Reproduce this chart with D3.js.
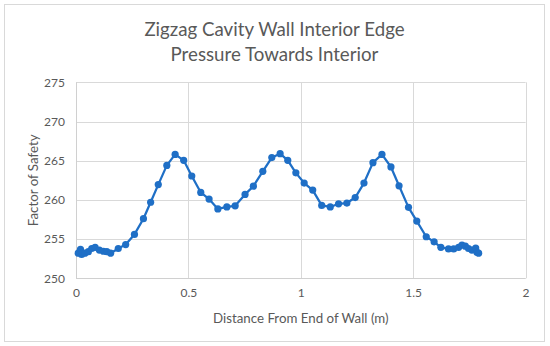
<!DOCTYPE html>
<html>
<head>
<meta charset="UTF-8">
<script src="https://d3js.org/d3.v7.min.js"></script>
<style>
  body { margin: 0; background: #fff; }
  text { font-family: Lato, "Open Sans", sans-serif; fill: #595959; }
</style>
</head>
<body>
<script>
// distance from end of wall (m)
const distance = [0.010, 0.020, 0.025, 0.040, 0.055, 0.070, 0.085, 0.104, 0.122, 0.137,
  0.154, 0.188, 0.221, 0.260, 0.300, 0.332, 0.366, 0.404, 0.441, 0.479,
  0.515, 0.555, 0.592, 0.631, 0.671, 0.708, 0.752, 0.789, 0.831, 0.871,
  0.908, 0.942, 0.978, 1.015, 1.053, 1.093, 1.131, 1.168, 1.205, 1.242,
  1.281, 1.321, 1.361, 1.401, 1.437, 1.479, 1.516, 1.558, 1.593, 1.623,
  1.657, 1.680, 1.702, 1.717, 1.732, 1.746, 1.761, 1.778, 1.784, 1.791];
// factor of safety
const safety = [253.2, 253.7, 253.05, 253.2, 253.4, 253.8, 253.95, 253.6, 253.45, 253.4,
  253.2, 253.8, 254.3, 255.6, 257.6, 259.7, 261.95, 264.4, 265.8, 265.05,
  263.05, 260.95, 260.1, 258.85, 259.1, 259.25, 260.7, 261.75, 263.65, 265.4,
  265.9, 265.05, 263.45, 262.15, 261.25, 259.3, 259.1, 259.5, 259.6, 260.3,
  262.15, 264.75, 265.8, 264.2, 261.8, 259.05, 257.3, 255.3, 254.65, 253.95,
  253.75, 253.75, 253.95, 254.25, 254.1, 253.8, 253.6, 253.85, 253.3, 253.2];
const xTicks = [0, 0.5, 1, 1.5, 2];
const yTicks = [250, 255, 260, 265, 270, 275];
const titleLines = ["Zigzag Cavity Wall Interior Edge", "Pressure Towards Interior"];

const data = distance.map((d, i) => ({x: d, y: safety[i]}));

const W = 550, H = 346;
const m = {left: 76, right: 525.6, top: 82.3, bottom: 278.3};

const svg = d3.select("body").append("svg")
  .attr("width", W).attr("height", H);

// chart border
svg.append("rect")
  .attr("x", 4.5).attr("y", 4.5).attr("width", 540).attr("height", 337)
  .attr("fill", "#fff").attr("stroke", "#d9d9d9").attr("stroke-width", 1);

const x = d3.scaleLinear().domain([0, 2]).range([m.left, m.right]);
const y = d3.scaleLinear().domain([250, 275]).range([m.bottom, m.top]);

// gridlines
svg.append("g").selectAll("line").data(yTicks).join("line")
  .attr("x1", m.left).attr("x2", m.right)
  .attr("y1", d => Math.round(y(d)) + 0.5).attr("y2", d => Math.round(y(d)) + 0.5)
  .attr("stroke", "#d9d9d9");
svg.append("g").selectAll("line").data(xTicks).join("line")
  .attr("y1", m.top).attr("y2", m.bottom)
  .attr("x1", d => Math.round(x(d)) + 0.5).attr("x2", d => Math.round(x(d)) + 0.5)
  .attr("stroke", "#d9d9d9");

// axes (labels only, lines drawn separately)
const xAxis = svg.append("g")
  .attr("transform", "translate(0," + m.bottom + ")")
  .call(d3.axisBottom(x).tickValues(xTicks).tickSize(0).tickPadding(10).tickFormat(d3.format("")));
const yAxis = svg.append("g")
  .attr("transform", "translate(" + m.left + ",0)")
  .call(d3.axisLeft(y).tickValues(yTicks).tickSize(0).tickPadding(11));
[xAxis, yAxis].forEach(a => {
  a.select(".domain").remove();
  a.selectAll("text").style("font-family", "Lato, sans-serif").style("font-size", "12px").attr("fill", "#595959");
});
svg.append("line")
  .attr("x1", m.left).attr("x2", m.right)
  .attr("y1", Math.round(m.bottom) + 0.5).attr("y2", Math.round(m.bottom) + 0.5)
  .attr("stroke", "#d0d0d0");
svg.append("line")
  .attr("x1", Math.round(m.left) + 0.5).attr("x2", Math.round(m.left) + 0.5)
  .attr("y1", m.top).attr("y2", m.bottom)
  .attr("stroke", "#d0d0d0");

// series
svg.append("path")
  .datum(data)
  .attr("fill", "none")
  .attr("stroke", "#1f6fc6")
  .attr("stroke-width", 2.25)
  .attr("stroke-linejoin", "round")
  .attr("d", d3.line().x(d => x(d.x)).y(d => y(d.y)));

svg.append("g").selectAll("circle").data(data).join("circle")
  .attr("cx", d => x(d.x)).attr("cy", d => y(d.y)).attr("r", 3.6)
  .attr("fill", "#1f6fc6");

// titles
svg.append("text")
  .attr("text-anchor", "middle")
  .style("font-size", "18.7px")
  .selectAll("tspan").data(titleLines).join("tspan")
  .attr("x", 274.5).attr("y", (d, i) => 36 + i * 25)
  .text(d => d);

svg.append("text")
  .attr("x", (m.left + m.right) / 2).attr("y", 323)
  .attr("text-anchor", "middle")
  .style("font-size", "13.3px")
  .text("Distance From End of Wall (m)");

svg.append("text")
  .attr("transform", "translate(38," + ((m.top + m.bottom) / 2) + ") rotate(-90)")
  .attr("text-anchor", "middle")
  .style("font-size", "13.3px")
  .text("Factor of Safety");
</script>
</body>
</html>
